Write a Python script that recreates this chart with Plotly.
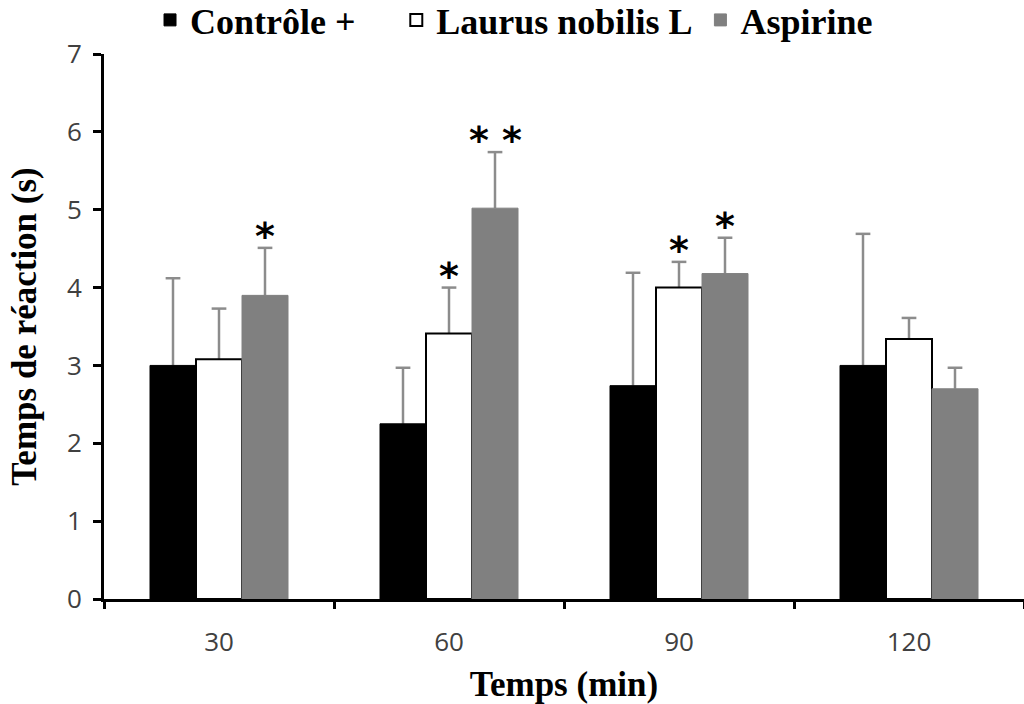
import plotly.graph_objects as go

# Reaction time (s) per group at each time point (min), mean and upper SD
temps = ["30", "60", "90", "120"]

controle = [3.00, 2.25, 2.74, 3.00]
controle_err = [1.12, 0.72, 1.45, 1.69]

laurus = [3.08, 3.41, 4.00, 3.34]
laurus_err = [0.65, 0.59, 0.33, 0.27]

aspirine = [3.90, 5.02, 4.18, 2.70]
aspirine_err = [0.61, 0.72, 0.46, 0.27]

# significance marks drawn above each bar
controle_sig = ["", "", "", ""]
laurus_sig = ["", "*", "*", ""]
aspirine_sig = ["*", "* *", "*", ""]

ERR_COLOR = "#8c8c8c"
SERIF = "Liberation Serif"
LEGEND_FONT = dict(family=SERIF, size=36, color="black", weight="bold")

bargap = 0.4
bar_w = (1 - bargap) / 3   # width of one bar in category units
cap = 0.032                # half width of an error-bar cap in category units

series = [
    ("Contrôle +", controle, controle_err, controle_sig,
     dict(color="black", line=dict(color="black", width=1)), "legend", 0.1465),
    ("Laurus nobilis L", laurus, laurus_err, laurus_sig,
     dict(color="white", line=dict(color="black", width=2)), "legend2", 0.387),
    ("Aspirine", aspirine, aspirine_err, aspirine_sig,
     dict(color="#808080", line=dict(color="#808080", width=1)), "legend3", 0.684),
]

fig = go.Figure()
shapes = []
annotations = []
legends = {}
for k, (name, vals, errs, sig, marker, leg, lx) in enumerate(series):
    fig.add_trace(go.Bar(name=name, x=temps, y=vals, marker=marker,
                         legend=leg, showlegend=True))
    legends[leg] = dict(orientation="h", xref="container", yref="container",
                        x=lx, xanchor="left", y=0.9716, yanchor="middle",
                        font=LEGEND_FONT, itemwidth=30, bgcolor="rgba(0,0,0,0)")
    offset = (k - 1) * bar_w
    for i in range(len(temps)):
        xc = i + offset
        top = vals[i] + errs[i]
        # upper error bar, tucked behind the bar so only the part above it shows
        shapes.append(dict(type="line", xref="x", yref="y", x0=xc, x1=xc,
                           y0=vals[i], y1=top, layer="below",
                           line=dict(color=ERR_COLOR, width=2.5)))
        shapes.append(dict(type="line", xref="x", yref="y", x0=xc - cap, x1=xc + cap,
                           y0=top, y1=top, layer="below",
                           line=dict(color=ERR_COLOR, width=2.5)))
        if sig[i]:
            annotations.append(dict(
                x=xc, y=top, xref="x", yref="y", text=sig[i], showarrow=False,
                yanchor="bottom", yshift=-12,
                font=dict(family="DejaVu Sans", size=38, color="black", weight="bold")))

fig.update_layout(
    width=1024, height=704,
    margin=dict(l=104, r=0, t=54, b=105, autoexpand=False),
    paper_bgcolor="white", plot_bgcolor="white",
    showlegend=True,
    barmode="group", bargap=bargap, bargroupgap=0,
    shapes=shapes, annotations=annotations,
    xaxis=dict(type="category", range=[-0.5, 3.5], tickson="boundaries",
               ticks="outside", ticklen=7, tickwidth=3, tickcolor="black",
               showline=True, linecolor="black", linewidth=3,
               showgrid=False, zeroline=False,
               tickfont=dict(family="Open Sans", size=26, color="#404040"),
               ticklabelstandoff=18,
               title=dict(text="Temps (min)", standoff=20,
                          font=dict(family=SERIF, size=35, color="black", weight="bold"))),
    yaxis=dict(range=[0, 7], dtick=1, ticks="outside", ticklen=8, tickwidth=3,
               tickcolor="black", showline=True, linecolor="black", linewidth=3,
               showgrid=False, zeroline=False,
               tickfont=dict(family="Open Sans", size=26, color="#404040"),
               ticklabelstandoff=6,
               title=dict(text="Temps de réaction (s)", standoff=20,
                          font=dict(family=SERIF, size=35, color="black", weight="bold"))),
    **legends,
)

fig.write_html("out.html")
